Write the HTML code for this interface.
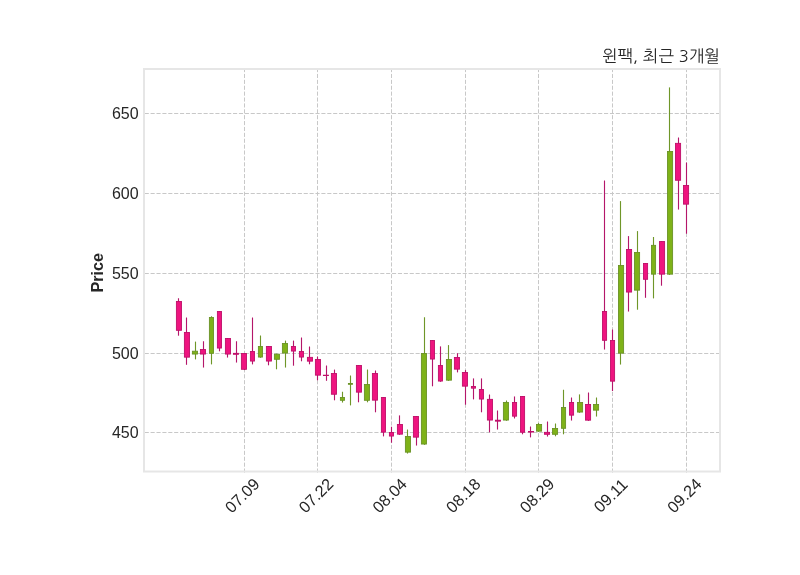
<!DOCTYPE html>
<html lang="ko">
<head>
<meta charset="utf-8">
<title>윈팩, 최근 3개월</title>
<style>
html,body{margin:0;padding:0;background:#ffffff;}
body{width:800px;height:575px;overflow:hidden;}
svg{display:block;}
text{font-family:"Liberation Sans","NanumGothic","Noto Sans CJK KR",sans-serif;fill:#262626;}
.t{font-family:"NanumGothic","Noto Sans CJK KR","Liberation Sans",sans-serif;}
</style>
</head>
<body>
<svg width="800" height="575" viewBox="0 0 800 575">
<rect x="0" y="0" width="800" height="575" fill="#ffffff"/>

<g stroke="#c8c8c8" stroke-width="1" stroke-dasharray="4.111 1.778" fill="none">
<line x1="144.7" y1="113.5" x2="720.0" y2="113.5"/>
<line x1="144.7" y1="193.5" x2="720.0" y2="193.5"/>
<line x1="144.7" y1="273.5" x2="720.0" y2="273.5"/>
<line x1="144.7" y1="353.5" x2="720.0" y2="353.5"/>
<line x1="144.7" y1="432.5" x2="720.0" y2="432.5"/>
<line x1="244.5" y1="472.6" x2="244.5" y2="69.0"/>
<line x1="317.5" y1="472.6" x2="317.5" y2="69.0"/>
<line x1="391.5" y1="472.6" x2="391.5" y2="69.0"/>
<line x1="465.5" y1="472.6" x2="465.5" y2="69.0"/>
<line x1="538.5" y1="472.6" x2="538.5" y2="69.0"/>
<line x1="612.5" y1="472.6" x2="612.5" y2="69.0"/>
<line x1="686.5" y1="472.6" x2="686.5" y2="69.0"/>
</g>
<g stroke="#b4166a" stroke-width="1.12" fill="none">
<line x1="178.5" y1="298.25" x2="178.5" y2="335.70"/>
<line x1="186.5" y1="317.50" x2="186.5" y2="364.80"/>
<line x1="203.5" y1="341.25" x2="203.5" y2="367.55"/>
<line x1="219.5" y1="311.00" x2="219.5" y2="351.30"/>
<line x1="227.5" y1="338.00" x2="227.5" y2="357.55"/>
<line x1="236.5" y1="341.25" x2="236.5" y2="362.55"/>
<line x1="244.5" y1="353.00" x2="244.5" y2="370.05"/>
<line x1="252.5" y1="317.50" x2="252.5" y2="364.40"/>
<line x1="268.5" y1="346.00" x2="268.5" y2="365.30"/>
<line x1="293.5" y1="340.60" x2="293.5" y2="365.70"/>
<line x1="301.5" y1="337.50" x2="301.5" y2="361.30"/>
<line x1="309.5" y1="346.50" x2="309.5" y2="364.30"/>
<line x1="317.5" y1="356.50" x2="317.5" y2="380.30"/>
<line x1="326.5" y1="365.50" x2="326.5" y2="380.80"/>
<line x1="334.5" y1="369.60" x2="334.5" y2="400.30"/>
<line x1="358.5" y1="365.00" x2="358.5" y2="402.30"/>
<line x1="375.5" y1="370.50" x2="375.5" y2="412.30"/>
<line x1="383.5" y1="397.00" x2="383.5" y2="436.40"/>
<line x1="391.5" y1="426.75" x2="391.5" y2="442.70"/>
<line x1="399.5" y1="415.40" x2="399.5" y2="434.90"/>
<line x1="416.5" y1="416.00" x2="416.5" y2="445.55"/>
<line x1="432.5" y1="340.00" x2="432.5" y2="386.30"/>
<line x1="440.5" y1="346.40" x2="440.5" y2="381.80"/>
<line x1="457.5" y1="353.25" x2="457.5" y2="372.40"/>
<line x1="465.5" y1="370.10" x2="465.5" y2="404.70"/>
<line x1="473.5" y1="378.40" x2="473.5" y2="399.40"/>
<line x1="481.5" y1="378.40" x2="481.5" y2="412.30"/>
<line x1="489.5" y1="394.50" x2="489.5" y2="432.30"/>
<line x1="497.5" y1="410.50" x2="497.5" y2="429.55"/>
<line x1="514.5" y1="396.45" x2="514.5" y2="418.50"/>
<line x1="522.5" y1="396.00" x2="522.5" y2="434.30"/>
<line x1="530.5" y1="426.50" x2="530.5" y2="437.40"/>
<line x1="547.5" y1="421.50" x2="547.5" y2="436.55"/>
<line x1="571.5" y1="397.50" x2="571.5" y2="420.55"/>
<line x1="588.5" y1="392.50" x2="588.5" y2="420.90"/>
<line x1="604.5" y1="180.50" x2="604.5" y2="349.55"/>
<line x1="612.5" y1="329.50" x2="612.5" y2="391.05"/>
<line x1="628.5" y1="236.10" x2="628.5" y2="311.55"/>
<line x1="645.5" y1="263.00" x2="645.5" y2="297.80"/>
<line x1="661.5" y1="241.10" x2="661.5" y2="285.70"/>
<line x1="678.5" y1="137.50" x2="678.5" y2="209.55"/>
<line x1="686.5" y1="162.50" x2="686.5" y2="233.70"/>
</g>
<g stroke="#6f9628" stroke-width="1.12" fill="none">
<line x1="195.5" y1="341.60" x2="195.5" y2="359.40"/>
<line x1="211.5" y1="316.25" x2="211.5" y2="364.40"/>
<line x1="260.5" y1="335.50" x2="260.5" y2="357.80"/>
<line x1="276.5" y1="353.75" x2="276.5" y2="369.30"/>
<line x1="285.5" y1="340.60" x2="285.5" y2="367.55"/>
<line x1="342.5" y1="391.75" x2="342.5" y2="402.55"/>
<line x1="350.5" y1="375.50" x2="350.5" y2="405.40"/>
<line x1="367.5" y1="369.50" x2="367.5" y2="402.30"/>
<line x1="407.5" y1="429.50" x2="407.5" y2="453.55"/>
<line x1="424.5" y1="317.25" x2="424.5" y2="444.80"/>
<line x1="448.5" y1="345.10" x2="448.5" y2="380.90"/>
<line x1="506.5" y1="400.50" x2="506.5" y2="420.80"/>
<line x1="538.5" y1="423.10" x2="538.5" y2="431.90"/>
<line x1="555.5" y1="423.50" x2="555.5" y2="436.30"/>
<line x1="563.5" y1="389.75" x2="563.5" y2="434.30"/>
<line x1="579.5" y1="394.40" x2="579.5" y2="412.80"/>
<line x1="596.5" y1="397.50" x2="596.5" y2="416.55"/>
<line x1="620.5" y1="201.10" x2="620.5" y2="364.55"/>
<line x1="637.5" y1="231.10" x2="637.5" y2="309.70"/>
<line x1="653.5" y1="237.00" x2="653.5" y2="298.40"/>
<line x1="669.5" y1="87.40" x2="669.5" y2="274.90"/>
</g>
<g fill="#ee147f" stroke="#be0f69" stroke-width="0.9">
<rect x="176.4" y="301.45" width="5.1" height="28.85"/>
<rect x="184.4" y="332.45" width="5.1" height="24.70"/>
<rect x="200.4" y="349.55" width="5.1" height="4.50"/>
<rect x="217.4" y="311.45" width="4.1" height="36.60"/>
<rect x="225.4" y="338.45" width="5.1" height="15.60"/>
<rect x="233.4" y="353.35" width="5.1" height="0.95"/>
<rect x="241.4" y="353.45" width="5.1" height="15.85"/>
<rect x="250.4" y="351.45" width="4.1" height="9.60"/>
<rect x="266.4" y="346.45" width="5.1" height="14.60"/>
<rect x="291.4" y="346.45" width="4.1" height="4.60"/>
<rect x="299.4" y="351.45" width="4.1" height="5.60"/>
<rect x="307.4" y="357.35" width="5.1" height="3.80"/>
<rect x="315.4" y="359.45" width="5.1" height="15.70"/>
<rect x="323.4" y="375.20" width="5.1" height="0.35"/>
<rect x="331.4" y="373.45" width="5.1" height="20.80"/>
<rect x="356.4" y="365.45" width="5.1" height="26.70"/>
<rect x="372.4" y="373.45" width="5.1" height="26.70"/>
<rect x="381.4" y="397.45" width="4.1" height="34.70"/>
<rect x="389.4" y="432.45" width="4.1" height="3.60"/>
<rect x="397.4" y="424.45" width="5.1" height="9.70"/>
<rect x="413.4" y="416.45" width="5.1" height="20.70"/>
<rect x="430.4" y="340.45" width="4.1" height="18.60"/>
<rect x="438.4" y="365.55" width="4.1" height="15.50"/>
<rect x="454.4" y="357.45" width="5.1" height="11.70"/>
<rect x="462.4" y="372.45" width="5.1" height="13.70"/>
<rect x="471.4" y="386.45" width="4.1" height="1.70"/>
<rect x="479.4" y="389.45" width="4.1" height="9.60"/>
<rect x="487.4" y="399.35" width="5.1" height="20.70"/>
<rect x="495.4" y="420.20" width="5.1" height="0.95"/>
<rect x="512.5" y="402.45" width="4.1" height="13.70"/>
<rect x="520.5" y="396.45" width="4.1" height="35.80"/>
<rect x="528.5" y="431.45" width="5.1" height="0.60"/>
<rect x="544.5" y="432.35" width="5.1" height="1.95"/>
<rect x="569.5" y="402.45" width="4.1" height="12.70"/>
<rect x="585.5" y="404.45" width="5.1" height="15.70"/>
<rect x="602.5" y="311.45" width="4.1" height="28.85"/>
<rect x="610.5" y="340.55" width="4.1" height="40.60"/>
<rect x="626.5" y="249.45" width="5.1" height="42.60"/>
<rect x="643.5" y="263.45" width="4.1" height="15.85"/>
<rect x="659.5" y="241.55" width="5.1" height="32.60"/>
<rect x="675.5" y="143.35" width="5.1" height="36.90"/>
<rect x="683.5" y="185.45" width="5.1" height="18.70"/>
</g>
<g fill="#7eb218" stroke="#6a9226" stroke-width="0.9">
<rect x="192.4" y="351.20" width="5.1" height="2.85"/>
<rect x="209.4" y="317.45" width="4.1" height="35.85"/>
<rect x="258.4" y="346.45" width="4.1" height="10.60"/>
<rect x="274.4" y="354.20" width="5.1" height="5.10"/>
<rect x="282.4" y="343.45" width="5.1" height="9.60"/>
<rect x="340.4" y="397.45" width="4.1" height="2.85"/>
<rect x="348.4" y="383.45" width="4.1" height="0.85"/>
<rect x="364.4" y="384.55" width="5.1" height="15.75"/>
<rect x="405.4" y="436.55" width="5.1" height="15.60"/>
<rect x="421.4" y="353.45" width="5.1" height="90.60"/>
<rect x="446.4" y="359.45" width="5.1" height="20.70"/>
<rect x="503.4" y="402.45" width="5.1" height="17.60"/>
<rect x="536.5" y="424.45" width="5.1" height="6.70"/>
<rect x="552.5" y="428.55" width="5.1" height="5.75"/>
<rect x="561.5" y="407.45" width="4.1" height="20.85"/>
<rect x="577.5" y="402.45" width="5.1" height="9.60"/>
<rect x="593.5" y="404.45" width="5.1" height="5.70"/>
<rect x="618.5" y="265.45" width="5.1" height="87.70"/>
<rect x="634.5" y="252.45" width="5.1" height="37.70"/>
<rect x="651.5" y="245.35" width="4.1" height="28.80"/>
<rect x="667.5" y="151.45" width="5.1" height="122.70"/>
</g>
<rect x="144.0" y="69.0" width="576.0" height="402.5" fill="none" stroke="#e6e6e6" stroke-width="2"/>
<text x="138.6" y="119.4" font-size="16.0" text-anchor="end">650</text>
<text x="138.6" y="199.4" font-size="16.0" text-anchor="end">600</text>
<text x="138.6" y="279.4" font-size="16.0" text-anchor="end">550</text>
<text x="138.6" y="359.4" font-size="16.0" text-anchor="end">500</text>
<text x="138.6" y="438.4" font-size="16.0" text-anchor="end">450</text>
<text transform="translate(246.2,499.5) rotate(-45)" font-size="16.3" text-anchor="middle">07.09</text>
<text transform="translate(319.9,499.5) rotate(-45)" font-size="16.3" text-anchor="middle">07.22</text>
<text transform="translate(393.6,499.5) rotate(-45)" font-size="16.3" text-anchor="middle">08.04</text>
<text transform="translate(467.2,499.5) rotate(-45)" font-size="16.3" text-anchor="middle">08.18</text>
<text transform="translate(540.9,499.5) rotate(-45)" font-size="16.3" text-anchor="middle">08.29</text>
<text transform="translate(614.6,499.5) rotate(-45)" font-size="16.3" text-anchor="middle">09.11</text>
<text transform="translate(688.3,499.5) rotate(-45)" font-size="16.3" text-anchor="middle">09.24</text>
<text transform="translate(103,272.7) rotate(-90)" font-size="16.2" font-weight="bold" text-anchor="middle">Price</text>
<text class="t" x="719.9" y="61.6" font-size="16.6" text-anchor="end">윈팩, 최근 3개월</text>
</svg>
</body>
</html>
